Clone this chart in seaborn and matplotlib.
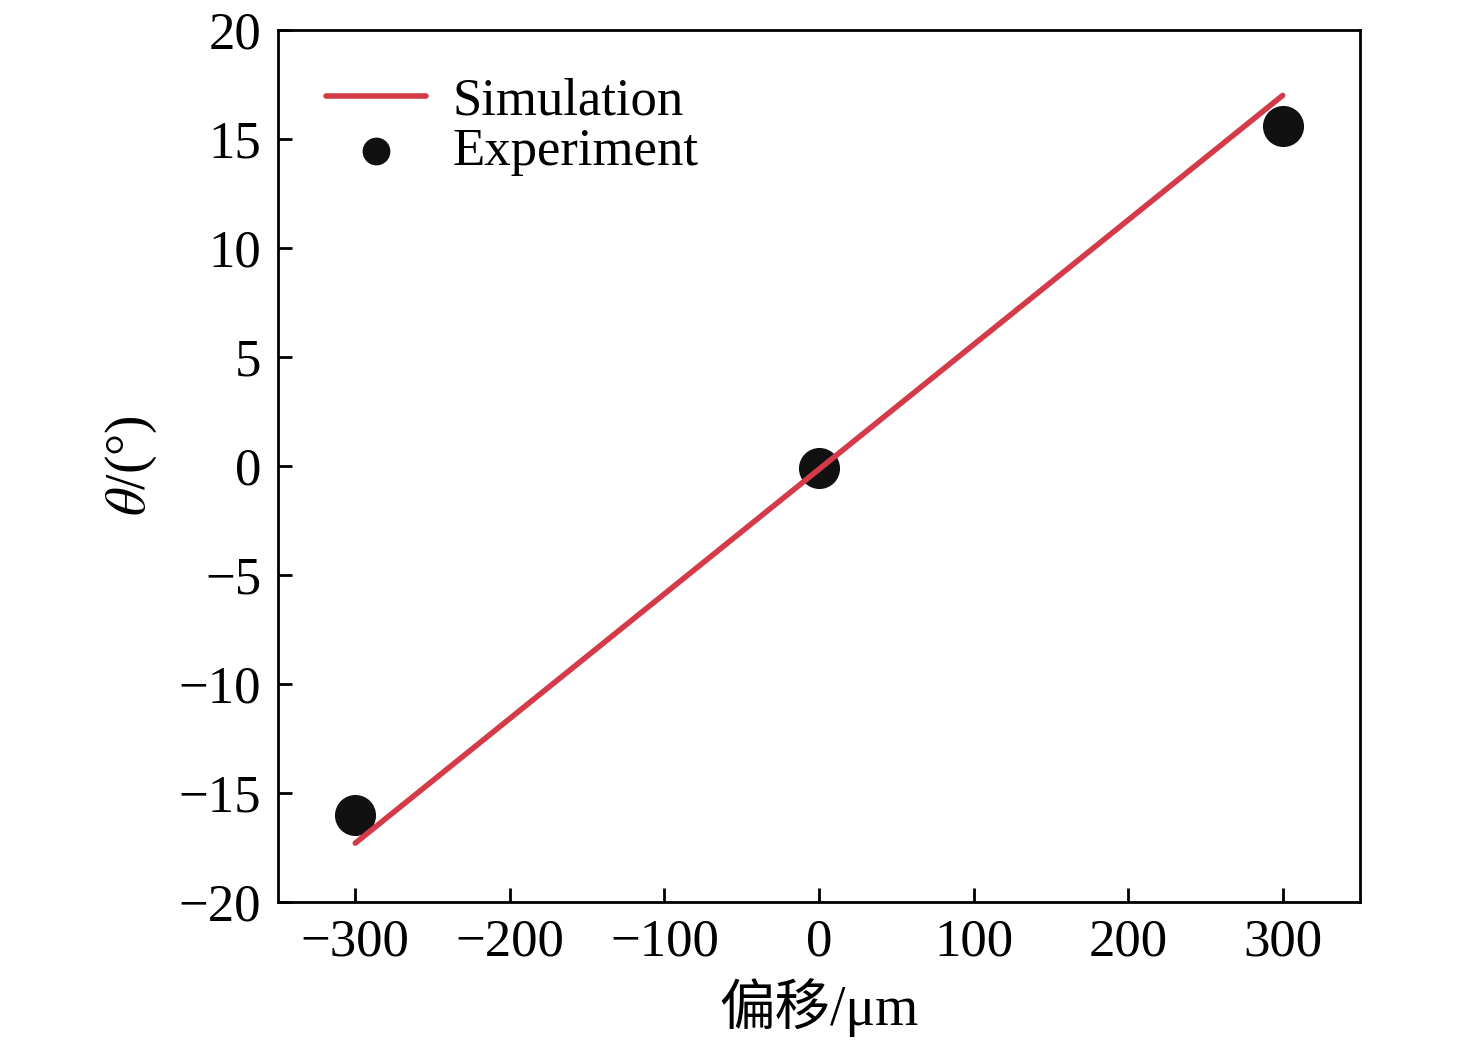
import matplotlib
matplotlib.use("Agg")
import matplotlib.pyplot as plt
import numpy as np
import pandas as pd
import seaborn as sns

sim_x = [-300, 300]
sim_y = [-17.3, 17.0]
exp_x = [-300, 0, 300]
exp_y = [-16.0, -0.1, 15.6]

sns.set_style("ticks")
plt.rcParams["font.family"] = ["Liberation Serif", "Noto Sans CJK SC"]
plt.rcParams["mathtext.fontset"] = "stix"
plt.rcParams["axes.unicode_minus"] = True
plt.rcParams["text.color"] = "black"
plt.rcParams["axes.labelcolor"] = "black"
plt.rcParams["xtick.color"] = "black"
plt.rcParams["ytick.color"] = "black"
plt.rcParams["axes.edgecolor"] = "black"

fig = plt.figure(figsize=(14.76, 10.46), dpi=100)
ax = fig.add_axes([278 / 1476, 1 - 902 / 1046, (1360 - 278) / 1476, (902 - 30) / 1046])

sns.lineplot(x=sim_x, y=sim_y, color="#d43a48", lw=4, ax=ax, label="Simulation")
sns.scatterplot(x=exp_x, y=exp_y, color="#111111", s=750, ax=ax, label="Experiment",
                edgecolor="#111111", zorder=1)

ax.set_xlim(-350, 350)
ax.set_ylim(-20, 20)
ax.set_xticks(np.arange(-300, 301, 100))
ax.set_yticks(np.arange(-20, 21, 5))
ax.tick_params(direction="in", length=10, width=2, labelsize=38, pad=12)
for s in ax.spines.values():
    s.set_linewidth(2)
ax.set_xlabel("偏移/μm", fontsize=40, labelpad=8)
ax.set_ylabel(r"$\theta$/(°)", fontsize=40, labelpad=14)

ax.legend(loc="upper left", fontsize=38, frameon=False, handlelength=1.9,
          handletextpad=0.5, borderaxespad=0.5, labelspacing=0.05, markerscale=0.65)
fig.savefig("out.png", dpi=100)
